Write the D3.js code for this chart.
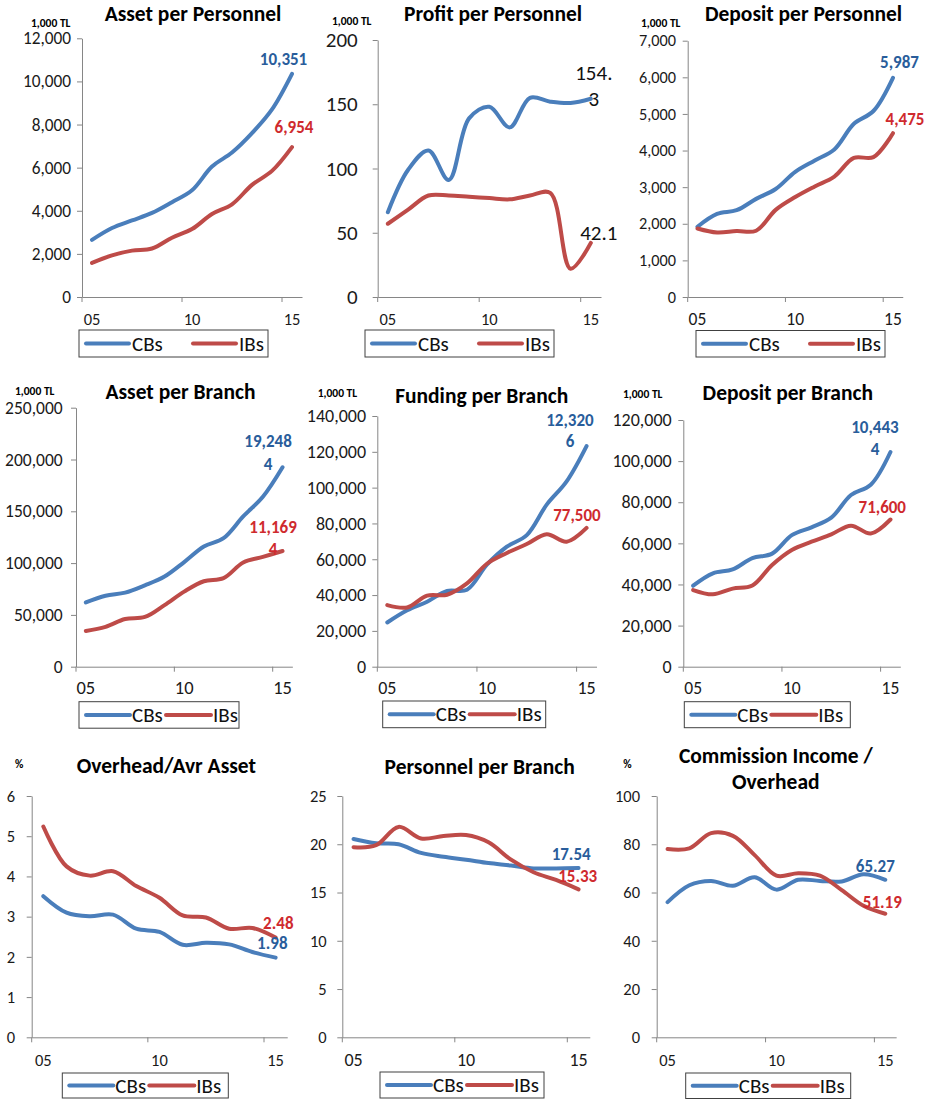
<!DOCTYPE html>
<html>
<head>
<meta charset="utf-8">
<script src="https://cdn.jsdelivr.net/npm/d3@7"></script>
<style>
body { margin: 0; background: #fff; }
svg { display: block; }
text { font-family: Carlito, Calibri, Lato, sans-serif; }
</style>
</head>
<body>
<div id="chart"></div>
<script>
// categories (years 2005-2015)
const years = ["05","06","07","08","09","10","11","12","13","14","15"];
const tickYears = ["05","10","15"];
const seriesNames = ["CBs","IBs"];

// series values
const assetPersonnelCBs = [2650, 3200, 3550, 3900, 4400, 4950, 6050, 6700, 7600, 8700, 10351];
const assetPersonnelIBs = [1580, 1930, 2150, 2250, 2750, 3150, 3850, 4300, 5200, 5850, 6954];
const profitPersonnelCBs = [66, 99, 114, 91, 139, 148, 132, 155, 152, 151, 154.3];
const profitPersonnelIBs = [57, 68, 79, 79, 78, 77, 76, 79, 81, 22, 42.1];
const depositPersonnelCBs = [1920, 2270, 2370, 2680, 2950, 3420, 3730, 4030, 4730, 5080, 5987];
const depositPersonnelIBs = [1870, 1760, 1800, 1810, 2380, 2730, 3020, 3290, 3800, 3820, 4475];
const assetBranchCBs = [62000, 68500, 71500, 78500, 87000, 101000, 116000, 124000, 145000, 164000, 192484];
const assetBranchIBs = [34500, 38500, 46000, 48000, 59500, 72500, 82500, 85500, 100500, 106000, 111694];
const fundingBranchCBs = [24700, 31500, 36300, 42300, 43000, 57000, 67000, 73500, 90500, 103500, 123206];
const fundingBranchIBs = [34400, 33100, 39700, 40200, 46500, 57500, 63500, 68500, 74000, 69800, 77500];
const depositBranchCBs = [39400, 45400, 47300, 52800, 55000, 64000, 67800, 72500, 83500, 88500, 104434];
const depositBranchIBs = [37300, 35200, 38000, 39500, 49500, 56800, 60800, 64400, 68600, 64800, 71600];
const overheadCBs = [3.51, 3.10, 3.01, 3.05, 2.70, 2.62, 2.30, 2.35, 2.31, 2.12, 1.98];
const overheadIBs = [5.24, 4.25, 4.02, 4.13, 3.76, 3.47, 3.03, 2.98, 2.70, 2.72, 2.48];
const personnelBranchCBs = [20.55, 20.1, 20.0, 19.1, 18.7, 18.4, 18.05, 17.8, 17.5, 17.5, 17.54];
const personnelBranchIBs = [19.7, 19.9, 21.8, 20.6, 20.85, 20.95, 20.2, 18.4, 17.1, 16.3, 15.33];
const commissionCBs = [56.0, 63.0, 64.8, 62.8, 66.3, 61.2, 65.3, 64.8, 64.6, 67.6, 65.27];
const commissionIBs = [78.0, 78.3, 84.6, 83.5, 75.5, 67.0, 68.0, 67.0, 61.0, 54.5, 51.19];

// texts
const titles = ["Asset per Personnel","Profit per Personnel","Deposit per Personnel",
  "Asset per Branch","Funding per Branch","Deposit per Branch",
  "Overhead/Avr Asset","Personnel per Branch","Commission Income /\nOverhead"];
const units = ["1,000 TL","1,000 TL","1,000 TL","1,000 TL","1,000 TL","1,000 TL","%","","%"];
const endLabelsCBs = ["10,351","154.\n3","5,987","19,248\n4","12,320\n6","10,443\n4","1.98","17.54","65.27"];
const endLabelsIBs = ["6,954","42.1","4,475","11,169\n4","77,500","71,600","2.48","15.33","51.19"];
const yMaxes = [12000, 200, 7000, 250000, 140000, 120000, 6, 25, 100];
const ySteps = [2000, 50, 1000, 50000, 20000, 20000, 1, 5, 20];
const valuesCBs = [assetPersonnelCBs, profitPersonnelCBs, depositPersonnelCBs, assetBranchCBs,
  fundingBranchCBs, depositBranchCBs, overheadCBs, personnelBranchCBs, commissionCBs];
const valuesIBs = [assetPersonnelIBs, profitPersonnelIBs, depositPersonnelIBs, assetBranchIBs,
  fundingBranchIBs, depositBranchIBs, overheadIBs, personnelBranchIBs, commissionIBs];

// layout per panel (ys/xs = y/x tick font sizes)
const layout = [
  {left:82, band:20, top:38.3, bottom:297, pad:6, ys:17.3, xs:16.5, tx:193, ty:14, ux:31, uy:22.5, xl:22.3, lg:[79,330,189,27], wide:true,
   lc:[-8.5,-14.8,0], li:[2,-19.6,0], plain:false},
  {left:377.7, band:20.3, top:40, bottom:297, pad:15, ys:21, xs:16.5, tx:493, ty:14, ux:332, uy:21, xl:22.3, lg:[365,330,189,27], wide:true,
   lc:[3,-26,26], li:[8,-9.6,0], plain:true},
  {left:687.7, band:19.55, top:40.7, bottom:297, pad:6.7, ys:16.3, xs:17.5, tx:803.5, ty:14, ux:641, uy:22.5, xl:22.3, lg:[696,330.5,189,26.5], wide:true,
   lc:[6.5,-14.8,0], li:[12,-13.2,0], plain:false},
  {left:76, band:19.67, top:407.7, bottom:666.7, pad:8.3, ys:17.5, xs:18.5, tx:180.5, ty:392.3, ux:15, uy:391.3, xl:21, lg:[79,701.7,160,26.5], wide:false,
   lc:[-14.5,-25.6,22.6], li:[-9.5,-23.3,22.3], plain:false},
  {left:377.3, band:19.93, top:416, bottom:666.7, pad:6.3, ys:18, xs:18, tx:481.7, ty:396, ux:317.7, uy:393.3, xl:21, lg:[382.7,701,163,26.7], wide:false,
   lc:[-16.6,-25.4,21], li:[-9.6,-12.2,0], plain:false},
  {left:683.3, band:19.73, top:420, bottom:666.7, pad:6.6, ys:18, xs:17.5, tx:787.8, ty:393.3, ux:623, uy:394.3, xl:21, lg:[684.3,701.7,166,26], wide:false,
   lc:[-15.5,-24.3,21.6], li:[-8.2,-12.2,0], plain:false},
  {left:31.7, band:23.23, top:796, bottom:1037.3, pad:11.7, ys:16.5, xs:16.5, tx:166.3, ty:766, ux:15, uy:764.3, xl:22.7, lg:[62.3,1073,166,25], wide:false,
   lc:[-3.3,-14,0], li:[2.7,-13.8,0], plain:false},
  {left:342.3, band:22.5, top:796, bottom:1037.3, pad:10.6, ys:16.5, xs:18, tx:479.7, ty:766.7, ux:0, uy:0, xl:22.7, lg:[380,1072,164,26], wide:false,
   lc:[-7.4,-14,0], li:[-0.8,-12.6,0], plain:false},
  {left:656.7, band:21.77, top:796, bottom:1037.3, pad:11.7, ys:16.5, xs:16.5, tx:775.8, ty:756, ux:623.3, uy:764.3, xl:22.7, lg:[685.7,1073,165,25.5], wide:false,
   lc:[-10,-13.8,0], li:[-3,-11.1,0], plain:false}
];

const blue = "#4A7EBB", red = "#BE4B48";
const blueLabel = "#295D9B", redLabel = "#CF2A2E";
const axisColor = "#868686";

const svg = d3.select("#chart").append("svg")
  .attr("width", 926)
  .attr("height", 1101);

layout.forEach((p, k) => {
  const g = svg.append("g");
  const x = d3.scaleBand().domain(years).range([p.left, p.left + p.band * years.length]);
  const y = d3.scaleLinear().domain([0, yMaxes[k]]).range([p.bottom, p.top]);
  const cx = d => x(d) + x.bandwidth() / 2;

  // y axis
  const ya = g.append("g")
    .attr("transform", "translate(" + p.left + ",0)")
    .call(d3.axisLeft(y)
      .tickValues(d3.range(0, yMaxes[k] + ySteps[k] / 2, ySteps[k]))
      .tickSize(5).tickSizeOuter(0).tickPadding(p.pad)
      .tickFormat(d3.format(",")));
  ya.selectAll("path,line").attr("stroke", axisColor);
  ya.selectAll("text").style("font-size", p.ys + "px").attr("fill", "#1a1a1a");

  // x axis
  const xa = g.append("g")
    .attr("transform", "translate(0," + p.bottom + ")")
    .call(d3.axisBottom(x).tickValues(tickYears).tickSize(0).tickSizeOuter(0));
  xa.select("path").attr("stroke", axisColor);
  xa.selectAll("text").attr("y", p.xl).attr("dy", "0.35em")
    .style("font-size", p.xs + "px").attr("fill", "#1a1a1a");
  xa.selectAll("line.tk").data(tickYears).enter().append("line")
    .attr("class", "tk")
    .attr("x1", d => x(d)).attr("x2", d => x(d))
    .attr("y1", 0).attr("y2", 5)
    .attr("stroke", axisColor);

  // lines
  const line = d3.line()
    .x((d, i) => cx(years[i]))
    .y(d => y(d))
    .curve(d3.curveCatmullRom.alpha(0.5));
  [[valuesCBs[k], blue], [valuesIBs[k], red]].forEach(s => {
    g.append("path")
      .attr("d", line(s[0]))
      .attr("fill", "none")
      .attr("stroke", s[1])
      .attr("stroke-width", 4)
      .attr("stroke-linecap", "round")
      .attr("stroke-linejoin", "round");
  });

  // end labels
  const last = years[years.length - 1];
  [[endLabelsCBs[k], valuesCBs[k], p.lc, blueLabel], [endLabelsIBs[k], valuesIBs[k], p.li, redLabel]].forEach(s => {
    const lines = s[0].split("\n");
    const vx = cx(last) + s[2][0];
    const vy = y(s[1][s[1].length - 1]) + s[2][1];
    lines.forEach((t, j) => {
      g.append("text")
        .attr("x", vx)
        .attr("y", vy + j * s[2][2])
        .attr("text-anchor", "middle")
        .attr("dominant-baseline", "central")
        .style("font-size", p.plain ? "21px" : "17px")
        .style("font-weight", p.plain ? "normal" : "bold")
        .attr("fill", p.plain ? "#111" : s[3])
        .text(t);
    });
  });

  // title
  titles[k].split("\n").forEach((t, j) => {
    g.append("text")
      .attr("x", p.tx)
      .attr("y", p.ty + j * 25.7)
      .attr("text-anchor", "middle")
      .attr("dominant-baseline", "central")
      .style("font-size", "21.5px")
      .style("font-weight", "bold")
      .attr("fill", "#000")
      .text(t);
  });

  // unit
  if (units[k]) {
    g.append("text")
      .attr("x", p.ux)
      .attr("y", p.uy)
      .attr("dominant-baseline", "central")
      .style("font-size", "11.5px")
      .style("font-weight", "bold")
      .attr("fill", "#000")
      .text(units[k]);
  }

  // legend
  const lg = p.lg;
  const items = p.wide ? [[7, 50, 53], [114, 157, 160]] : [[7, 51, 53], [87, 132, 134]];
  const lgG = g.append("g").attr("transform", "translate(" + lg[0] + "," + lg[1] + ")");
  lgG.append("rect")
    .attr("width", lg[2]).attr("height", lg[3])
    .attr("fill", "#fff").attr("stroke", "#404040").attr("stroke-width", 1);
  seriesNames.forEach((n, j) => {
    lgG.append("line")
      .attr("x1", items[j][0]).attr("x2", items[j][1])
      .attr("y1", lg[3] / 2).attr("y2", lg[3] / 2)
      .attr("stroke", j === 0 ? blue : red)
      .attr("stroke-width", 4)
      .attr("stroke-linecap", "round");
    lgG.append("text")
      .attr("x", items[j][2])
      .attr("y", lg[3] / 2)
      .attr("dominant-baseline", "central")
      .style("font-size", "21px")
      .attr("fill", "#111")
      .text(n);
  });
});
</script>
</body>
</html>
